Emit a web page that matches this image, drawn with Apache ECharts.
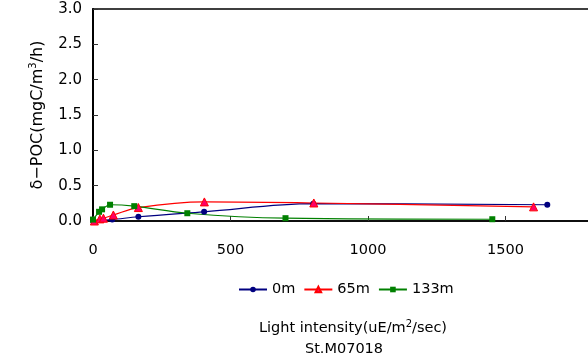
<!DOCTYPE html>
<html>
<head>
<meta charset="utf-8">
<script src="https://cdn.jsdelivr.net/npm/echarts@6/dist/echarts.min.js"></script>
<style>
html,body{margin:0;padding:0;background:#fff;}
#chart{width:588px;height:363px;}
</style>
</head>
<body>
<div id="chart"></div>
<script>
// Light intensity (uE/m2/sec) vs delta-POC (mgC/m3/h), station M07018
var seriesNames = ['0m', '65m', '133m'];
var depth0m = [[0, 0.0], [70, 0.02], [165, 0.06], [404, 0.13], [801, 0.245], [1652, 0.23]];
var depth65m = [[5, 0.0], [25, 0.03], [38, 0.04], [74, 0.085], [165, 0.19], [405, 0.27], [803, 0.255], [1602, 0.2]];
var depth133m = [[0, 0.02], [22, 0.13], [33, 0.165], [62, 0.23], [150, 0.21], [343, 0.11], [700, 0.04], [1452, 0.025]];
var yTicks = [0, 0.5, 1.0, 1.5, 2.0, 2.5, 3.0];
var xTicks = [0, 500, 1000, 1500, 2000];

var font = 'DejaVu Sans, sans-serif';
var chart = echarts.init(document.getElementById('chart'));
chart.setOption({
  animation: false,
  backgroundColor: '#fff',
  grid: { left: 93, top: 9, width: 550, height: 212, outerBoundsMode: 'none', containLabel: false,
    show: true, borderColor: '#000', borderWidth: 1.5, backgroundColor: 'transparent' },
  xAxis: {
    type: 'value', min: xTicks[0], max: xTicks[xTicks.length - 1], interval: 500,
    axisLine: { lineStyle: { color: '#000', width: 1.5 } },
    axisTick: { inside: true, length: 5, lineStyle: { color: '#333' } },
    axisLabel: { color: '#000', fontSize: 14.5, fontFamily: font, margin: 22,
      formatter: function (v) { return String(v); } },
    splitLine: { show: false }
  },
  yAxis: {
    type: 'value', min: yTicks[0], max: yTicks[yTicks.length - 1], interval: 0.5,
    name: 'δ−POC(mgC/m{sup|3}/h)',
    nameLocation: 'middle', nameRotate: 90, nameGap: 46,
    nameTextStyle: { color: '#000', fontSize: 16, fontFamily: font,
      rich: { sup: { fontSize: 10, verticalAlign: 'top', padding: [0, 0, 9, 0], fontFamily: font, color: '#000' } } },
    axisLine: { show: true, lineStyle: { color: '#000', width: 2 } },
    axisTick: { inside: true, length: 5, lineStyle: { color: '#333' } },
    axisLabel: { color: '#000', fontSize: 15, fontFamily: font, margin: 11, formatter: function (v) { return v.toFixed(1); } },
    splitLine: { show: false }
  },
  legend: {
    top: 277, left: 233, itemWidth: 28, itemHeight: 7, itemGap: 8,
    textStyle: { color: '#000', fontSize: 14.5, fontFamily: font },
    data: seriesNames
  },
  series: [
    { name: seriesNames[0], type: 'line', data: depth0m, smooth: 0.35,
      symbol: 'circle', symbolSize: 6,
      lineStyle: { color: '#000080', width: 1.2 }, itemStyle: { color: '#000080' } },
    { name: seriesNames[1], type: 'line', data: depth65m, smooth: 0.35,
      symbol: 'triangle', symbolSize: 8,
      lineStyle: { color: '#ff0000', width: 1.2 }, itemStyle: { color: '#ff0066', borderColor: '#ff0000', borderWidth: 1 } },
    { name: seriesNames[2], type: 'line', data: depth133m, smooth: 0.35,
      symbol: 'rect', symbolSize: 6,
      lineStyle: { color: '#008000', width: 1.2 }, itemStyle: { color: '#008000' } }
  ],
  graphic: [
    { type: 'text', x: 353, y: 319, style: {
      text: 'Light intensity(uE/m{sup|2}/sec)', fill: '#000', font: '14.5px ' + font, align: 'center',
      rich: { sup: { fontSize: 10, verticalAlign: 'top', padding: [0, 0, 8, 0], fontFamily: font } } } },
    { type: 'text', x: 344, y: 342, style: { text: 'St.M07018', fill: '#000', font: '14.5px ' + font, align: 'center' } }
  ]
});
</script>
</body>
</html>
